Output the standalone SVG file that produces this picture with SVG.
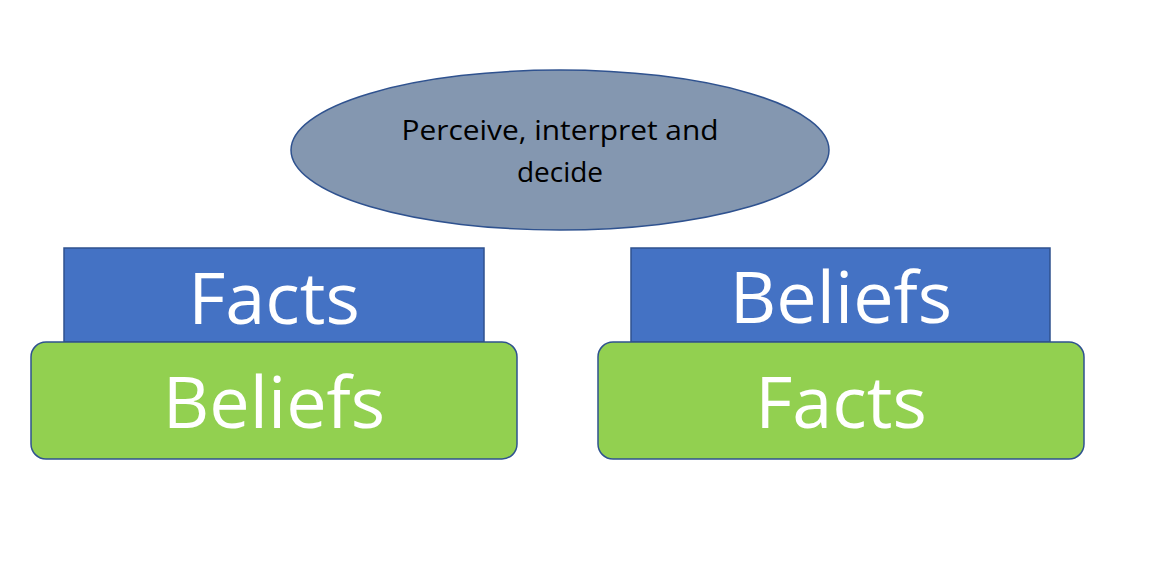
<svg xmlns="http://www.w3.org/2000/svg" width="1170" height="576" viewBox="0 0 1170 576">
<style>
.shape{stroke:#2F528F;stroke-width:1.5}
.blue{fill:#4472C4}
.green{fill:#92D050}
.big{font-family:"Open Sans","Liberation Sans",sans-serif;font-size:72px;fill:#FFFFFF;text-anchor:middle}
.small{font-family:"Open Sans","Liberation Sans",sans-serif;font-size:28px;fill:#000000;text-anchor:middle}
</style>
<rect width="1170" height="576" fill="#FFFFFF"/>
<g id="ellipse">
<ellipse class="shape" cx="560" cy="150" rx="269" ry="80" fill="#8497B0"/>
<text class="small" x="560" y="140" textLength="317" lengthAdjust="spacingAndGlyphs">Perceive, interpret and</text>
<text class="small" x="560" y="182">decide</text>
</g>
<g id="left-facts">
<rect class="shape blue" x="64" y="248" width="420" height="94"/>
<text class="big" x="274" y="324">Facts</text>
</g>
<g id="left-beliefs">
<rect class="shape green" x="31" y="342" width="486" height="117" rx="15"/>
<text class="big" x="274" y="428">Beliefs</text>
</g>
<g id="right-beliefs">
<rect class="shape blue" x="631" y="248" width="419" height="94"/>
<text class="big" x="841" y="323">Beliefs</text>
</g>
<g id="right-facts">
<rect class="shape green" x="598" y="342" width="486" height="117" rx="15"/>
<text class="big" x="841" y="428">Facts</text>
</g>
<g id="connectors"/>
</svg>
